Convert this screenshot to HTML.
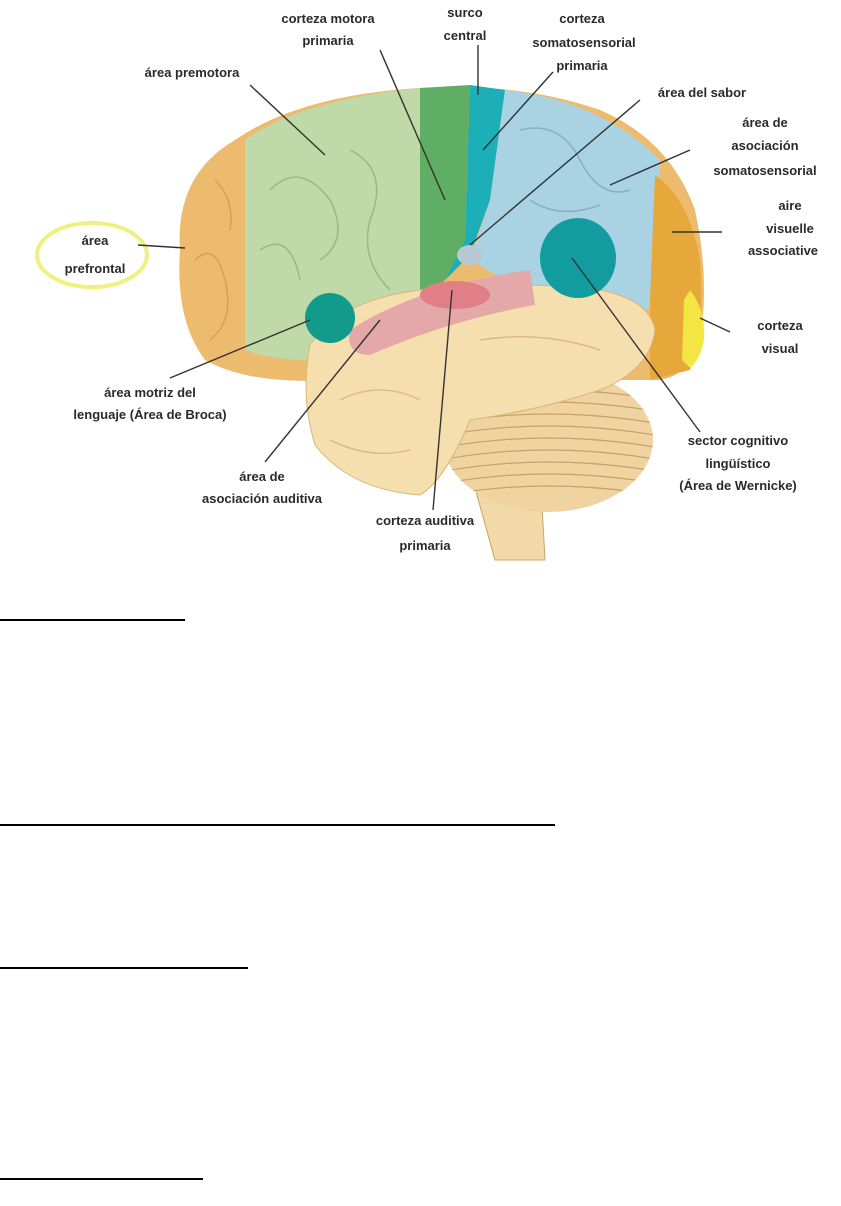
<!DOCTYPE html>
<html><head><meta charset="utf-8"><style>
html,body{margin:0;padding:0;background:#fff;}
body{width:841px;height:1206px;position:relative;overflow:hidden;}
svg{position:absolute;left:0;top:0;}
.t{font-family:"Liberation Sans",sans-serif;font-weight:bold;font-size:13px;fill:#2a2a2a;text-anchor:middle;}
.u{position:absolute;left:0;height:2px;background:#000;}
</style></head><body>
<svg width="841" height="570" viewBox="0 0 841 570">
<defs>
<clipPath id="cer"><ellipse cx="548" cy="440" rx="105" ry="72"/></clipPath>
</defs>
<path d="M470 470 L540 470 L545 560 L495 560 Z" fill="#f2d9a8" stroke="#c9a46a"/>
<ellipse cx="548" cy="440" rx="105" ry="72" fill="#efd3a0"/>
<g clip-path="url(#cer)" stroke="#c9a06a" stroke-width="1.2" fill="none">
<path d="M440 400 Q548 380 660 400"/><path d="M440 412 Q548 392 660 412"/><path d="M440 424 Q548 404 660 424"/>
<path d="M440 436 Q548 416 660 436"/><path d="M440 448 Q548 428 660 448"/><path d="M440 460 Q548 440 660 460"/>
<path d="M440 472 Q548 452 660 472"/><path d="M440 484 Q548 464 660 484"/><path d="M440 496 Q548 476 660 496"/>
</g>
<path d="M180 250 Q175 175 235 140 Q300 95 420 88 Q520 82 600 110 Q670 140 695 210 Q710 280 700 340 Q690 375 660 380 L330 380 Q250 385 205 360 Q175 320 180 250 Z" fill="#edbb6e"/>
<path d="M245 140 Q300 100 420 88 L420 300 Q360 330 310 360 Q270 360 245 350 Z" fill="#bfd9a8"/>
<path d="M420 88 L470 85 L465 240 L445 280 L420 300 Z" fill="#5fae63"/>
<path d="M470 85 L505 90 L490 200 L470 255 L445 280 L465 240 Z" fill="#1cafb8"/>
<path d="M505 90 Q600 100 660 160 L660 300 Q630 330 540 300 L470 260 L490 200 Z" fill="#a9d2e3"/>
<path d="M655 175 Q690 200 700 260 Q705 330 690 370 L650 380 L650 300 Z" fill="#e6a83a"/>
<path d="M690 290 Q706 310 704 340 Q700 360 690 368 L682 360 L684 300 Z" fill="#f3e642"/>
<path d="M310 345 Q340 300 420 290 Q520 280 600 290 Q650 300 655 330 Q650 370 600 390 Q540 410 470 420 Q445 480 420 495 Q350 490 315 445 Q300 395 310 345 Z" fill="#f6dfae" stroke="#d9b57a"/>
<path d="M350 330 Q420 285 530 270 L535 305 Q450 320 370 355 Q345 355 350 330 Z" fill="#e5a8a8"/>
<ellipse cx="455" cy="295" rx="35" ry="14" fill="#e07f85"/>
<ellipse cx="470" cy="255" rx="13" ry="10" fill="#b9c9d3"/>
<circle cx="330" cy="318" r="25" fill="#129a8a"/>
<ellipse cx="578" cy="258" rx="38" ry="40" fill="#129ca0"/>
<g fill="none" stroke="#8da87a" stroke-width="1.5" opacity="0.7">
<path d="M270 190 Q300 160 330 200 Q350 240 320 260"/><path d="M350 150 Q390 170 370 220 Q360 260 390 290"/>
<path d="M260 250 Q290 230 300 280"/></g>
<g fill="none" stroke="#7ba2b6" stroke-width="1.5" opacity="0.7"><path d="M520 130 Q560 120 580 160 Q600 200 630 190"/><path d="M530 200 Q560 220 600 205"/></g>
<g fill="none" stroke="#c9964e" stroke-width="1.5" opacity="0.7"><path d="M195 260 Q215 240 225 280 Q235 320 210 340"/><path d="M215 180 Q235 200 230 230"/></g>
<g fill="none" stroke="#d2ae74" stroke-width="1.3" opacity="0.8"><path d="M340 400 Q380 380 420 400"/><path d="M480 340 Q540 330 600 350"/><path d="M330 440 Q370 460 410 450"/></g>
<ellipse cx="92" cy="255" rx="55" ry="32" fill="none" stroke="#f0f080" stroke-width="4"/>
<g stroke="#333" stroke-width="1.4">
<line x1="250" y1="85" x2="325" y2="155"/>
<line x1="380" y1="50" x2="445" y2="200"/>
<line x1="478" y1="45" x2="478" y2="95"/>
<line x1="553" y1="72" x2="483" y2="150"/>
<line x1="640" y1="100" x2="470" y2="245"/>
<line x1="690" y1="150" x2="610" y2="185"/>
<line x1="672" y1="232" x2="722" y2="232"/>
<line x1="700" y1="318" x2="730" y2="332"/>
<line x1="138" y1="245" x2="185" y2="248"/>
<line x1="170" y1="378" x2="310" y2="320"/>
<line x1="572" y1="258" x2="700" y2="432"/>
<line x1="265" y1="462" x2="380" y2="320"/>
<line x1="433" y1="510" x2="452" y2="290"/>
</g>
<text class="t" x="328" y="23">corteza motora</text><text class="t" x="328" y="45">primaria</text>
<text class="t" x="465" y="17">surco</text><text class="t" x="465" y="40">central</text>
<text class="t" x="582" y="23">corteza</text><text class="t" x="584" y="47">somatosensorial</text><text class="t" x="582" y="70">primaria</text>
<text class="t" x="192" y="77">área premotora</text>
<text class="t" x="702" y="97">área del sabor</text>
<text class="t" x="765" y="127">área de</text><text class="t" x="765" y="150">asociación</text><text class="t" x="765" y="175">somatosensorial</text>
<text class="t" x="790" y="210">aire</text><text class="t" x="790" y="233">visuelle</text><text class="t" x="783" y="255">associative</text>
<text class="t" x="780" y="330">corteza</text><text class="t" x="780" y="353">visual</text>
<text class="t" x="95" y="245">área</text><text class="t" x="95" y="273">prefrontal</text>
<text class="t" x="150" y="397">área motriz del</text><text class="t" x="150" y="419">lenguaje (Área de Broca)</text>
<text class="t" x="738" y="445">sector cognitivo</text><text class="t" x="738" y="468">lingüístico</text><text class="t" x="738" y="490">(Área de Wernicke)</text>
<text class="t" x="262" y="481">área de</text><text class="t" x="262" y="503">asociación auditiva</text>
<text class="t" x="425" y="525">corteza auditiva</text><text class="t" x="425" y="550">primaria</text>
</svg>
<div class="u" style="top:619px;width:185px"></div>
<div class="u" style="top:824px;width:555px"></div>
<div class="u" style="top:967px;width:248px"></div>
<div class="u" style="top:1178px;width:203px"></div>
</body></html>
